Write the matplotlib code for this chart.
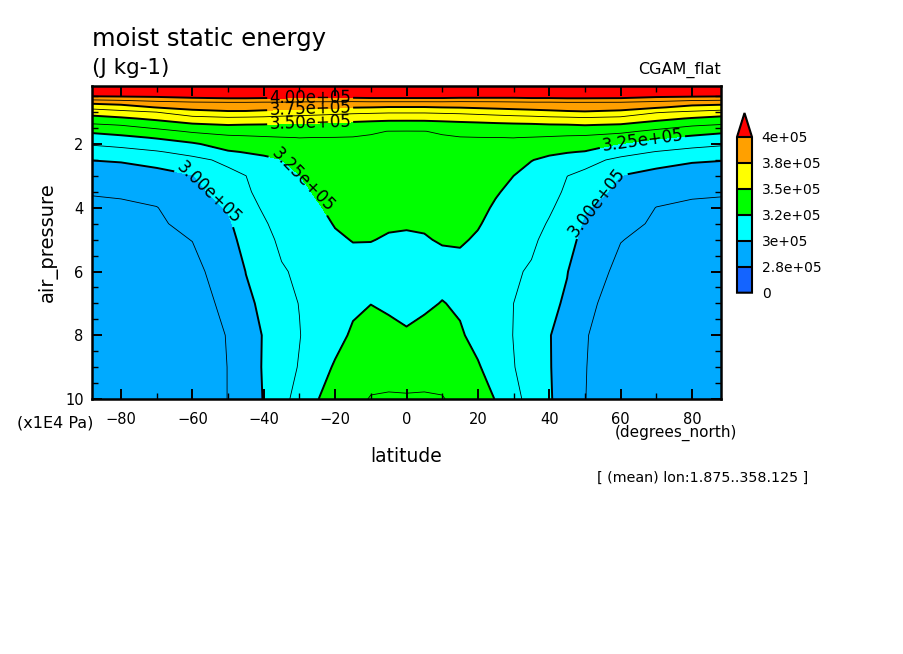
import numpy as np
import matplotlib
matplotlib.use("Agg")
import matplotlib.pyplot as plt
from matplotlib.ticker import MultipleLocator

# zonal mean moist static energy, values in 1e5 J/kg
lat = [-88.125, -80, -70, -60, -50, -45, -40, -35, -30, -25, -20, -15, -10, -5, 0,
       5, 10, 15, 20, 25, 30, 35, 40, 45, 50, 60, 70, 80, 88.125]
plev = [0.18, 0.4, 0.55, 0.7, 0.85, 1.0, 1.2, 1.4, 1.6, 1.8, 2.0, 2.25, 2.5,
        3.0, 3.5, 4.0, 4.5, 5.0, 6.0, 7.0, 8.0, 9.0, 10.0]  # x1E4 Pa
mse = [
    [4.30, 4.30, 4.30, 4.30, 4.30, 4.30, 4.30, 4.30, 4.30, 4.30, 4.30, 4.30, 4.30, 4.30, 4.30,
     4.30, 4.30, 4.30, 4.30, 4.30, 4.30, 4.30, 4.30, 4.30, 4.30, 4.30, 4.30, 4.30, 4.30],
    [4.11, 4.11, 4.11, 4.12, 4.13, 4.13, 4.13, 4.13, 4.12, 4.12, 4.12, 4.12, 4.13, 4.13, 4.13,
     4.13, 4.13, 4.12, 4.12, 4.12, 4.12, 4.13, 4.13, 4.13, 4.13, 4.12, 4.11, 4.11, 4.11],
    [3.95, 3.96, 3.975, 4.00, 4.015, 4.015, 4.008, 4.008, 4.00, 4.00, 4.00, 4.00, 4.008, 4.008, 4.008,
     4.008, 4.008, 4.00, 4.00, 4.00, 4.00, 4.008, 4.008, 4.015, 4.015, 4.01, 3.98, 3.965, 3.955],
    [3.78, 3.80, 3.84, 3.86, 3.867, 3.867, 3.862, 3.862, 3.856, 3.85, 3.848, 3.845, 3.849, 3.847, 3.847,
     3.847, 3.849, 3.845, 3.848, 3.85, 3.856, 3.862, 3.862, 3.867, 3.867, 3.865, 3.845, 3.81, 3.80],
    [3.66, 3.69, 3.755, 3.79, 3.80, 3.80, 3.797, 3.792, 3.784, 3.775, 3.766, 3.756, 3.751, 3.743, 3.743,
     3.743, 3.751, 3.756, 3.766, 3.775, 3.784, 3.792, 3.797, 3.80, 3.805, 3.80, 3.765, 3.71, 3.69],
    [3.56, 3.59, 3.625, 3.71, 3.735, 3.734, 3.721, 3.706, 3.694, 3.681, 3.667, 3.653, 3.646, 3.639, 3.639,
     3.639, 3.646, 3.653, 3.667, 3.681, 3.694, 3.706, 3.721, 3.734, 3.74, 3.72, 3.635, 3.605, 3.58],
    [3.45, 3.48, 3.525, 3.58, 3.60, 3.595, 3.59, 3.578, 3.571, 3.56, 3.549, 3.542, 3.536, 3.531, 3.531,
     3.531, 3.536, 3.542, 3.549, 3.56, 3.571, 3.578, 3.59, 3.595, 3.605, 3.59, 3.535, 3.49, 3.46],
    [3.36, 3.38, 3.43, 3.48, 3.502, 3.496, 3.493, 3.485, 3.481, 3.476, 3.47, 3.464, 3.454, 3.444, 3.442,
     3.444, 3.454, 3.464, 3.47, 3.476, 3.481, 3.485, 3.493, 3.496, 3.505, 3.49, 3.44, 3.39, 3.37],
    [3.27, 3.30, 3.34, 3.39, 3.417, 3.42, 3.426, 3.427, 3.428, 3.423, 3.416, 3.405, 3.382, 3.374, 3.373,
     3.374, 3.382, 3.405, 3.416, 3.423, 3.428, 3.427, 3.426, 3.42, 3.42, 3.40, 3.35, 3.305, 3.275],
    [3.20, 3.22, 3.26, 3.31, 3.35, 3.357, 3.364, 3.371, 3.376, 3.374, 3.373, 3.371, 3.369, 3.366, 3.366,
     3.366, 3.369, 3.371, 3.373, 3.374, 3.376, 3.371, 3.364, 3.357, 3.352, 3.32, 3.265, 3.225, 3.20],
    [3.135, 3.16, 3.19, 3.235, 3.30, 3.311, 3.318, 3.334, 3.353, 3.361, 3.364, 3.364, 3.361, 3.359, 3.358,
     3.359, 3.361, 3.364, 3.364, 3.361, 3.353, 3.334, 3.318, 3.311, 3.30, 3.245, 3.195, 3.165, 3.14],
    [3.07, 3.08, 3.115, 3.16, 3.24, 3.255, 3.261, 3.287, 3.326, 3.344, 3.353, 3.355, 3.352, 3.349, 3.348,
     3.349, 3.352, 3.355, 3.353, 3.344, 3.326, 3.287, 3.261, 3.255, 3.245, 3.165, 3.12, 3.085, 3.075],
    [3.002, 3.01, 3.04, 3.095, 3.15, 3.211, 3.237, 3.248, 3.298, 3.328, 3.343, 3.346, 3.343, 3.34, 3.339,
     3.34, 3.343, 3.346, 3.343, 3.328, 3.298, 3.252, 3.237, 3.211, 3.16, 3.10, 3.045, 3.012, 3.004],
    [2.94, 2.945, 2.96, 2.994, 3.095, 3.124, 3.204, 3.228, 3.247, 3.296, 3.321, 3.327, 3.325, 3.321, 3.319,
     3.321, 3.325, 3.327, 3.321, 3.296, 3.25, 3.228, 3.204, 3.126, 3.10, 2.998, 2.962, 2.947, 2.942],
    [2.88, 2.887, 2.91, 2.964, 3.05, 3.104, 3.171, 3.208, 3.224, 3.263, 3.30, 3.309, 3.307, 3.301, 3.30,
     3.301, 3.307, 3.309, 3.30, 3.26, 3.224, 3.208, 3.171, 3.104, 3.055, 2.968, 2.912, 2.888, 2.882],
    [2.86, 2.86, 2.872, 2.935, 3.009, 3.083, 3.138, 3.188, 3.20, 3.239, 3.278, 3.29, 3.29, 3.282, 3.28,
     3.282, 3.29, 3.292, 3.28, 3.236, 3.20, 3.188, 3.14, 3.083, 3.012, 2.938, 2.873, 2.86, 2.86],
    [2.85, 2.85, 2.86, 2.905, 2.982, 3.063, 3.112, 3.167, 3.185, 3.22, 3.256, 3.272, 3.272, 3.263, 3.261,
     3.263, 3.276, 3.278, 3.258, 3.22, 3.185, 3.167, 3.115, 3.063, 2.985, 2.908, 2.86, 2.85, 2.85],
    [2.845, 2.845, 2.85, 2.877, 2.96, 3.042, 3.09, 3.147, 3.17, 3.205, 3.235, 3.254, 3.254, 3.24, 3.234,
     3.242, 3.26, 3.262, 3.238, 3.205, 3.17, 3.147, 3.09, 3.045, 2.962, 2.878, 2.85, 2.845, 2.845],
    [2.835, 2.835, 2.84, 2.845, 2.93, 3.002, 3.05, 3.115, 3.142, 3.18, 3.20, 3.21, 3.20, 3.17, 3.16,
     3.17, 3.205, 3.215, 3.20, 3.18, 3.14, 3.112, 3.05, 3.004, 2.928, 2.85, 2.84, 2.835, 2.835],
    [2.83, 2.83, 2.835, 2.84, 2.895, 2.98, 3.02, 3.10, 3.127, 3.165, 3.19, 3.225, 3.248, 3.227, 3.21,
     3.228, 3.255, 3.232, 3.19, 3.165, 3.125, 3.10, 3.025, 2.985, 2.893, 2.842, 2.835, 2.83, 2.83],
    [2.83, 2.83, 2.835, 2.84, 2.878, 2.96, 3.005, 3.09, 3.122, 3.165, 3.205, 3.27, 3.30, 3.29, 3.265,
     3.29, 3.30, 3.265, 3.21, 3.165, 3.123, 3.09, 3.004, 2.962, 2.879, 2.84, 2.835, 2.83, 2.83],
    [2.83, 2.83, 2.835, 2.84, 2.876, 2.95, 3.008, 3.09, 3.13, 3.19, 3.265, 3.32, 3.34, 3.34, 3.33,
     3.34, 3.34, 3.315, 3.262, 3.19, 3.128, 3.09, 3.006, 2.952, 2.877, 2.84, 2.835, 2.83, 2.83],
    [2.835, 2.835, 2.835, 2.84, 2.876, 2.95, 3.004, 3.095, 3.16, 3.245, 3.31, 3.35, 3.38, 3.385, 3.385,
     3.385, 3.38, 3.35, 3.31, 3.245, 3.155, 3.09, 3.01, 2.95, 2.876, 2.84, 2.835, 2.835, 2.835],
]

fill_levels = [0.0, 2.75, 3.0, 3.25, 3.5, 3.75, 4.0]
fill_colors = ["#1464ff", "#00aaff", "#00ffff", "#00ff00", "#ffff00", "#ffa000", "#ff0000"]
thick_levels = [3.0, 3.25, 3.5, 3.75, 4.0]
thin_levels = [2.875, 3.125, 3.375, 3.625, 3.875]
cbar_labels = ["0", "2.8e+05", "3e+05", "3.2e+05", "3.5e+05", "3.8e+05", "4e+05"]
lat_ticks = [-80, -60, -40, -20, 0, 20, 40, 60, 80]
p_ticks = [2, 4, 6, 8, 10]

# where the contour labels go (lat, pressure)
label_pos = [(-27, 0.55), (-27, 0.9), (-27, 1.33), (-30, 3.2), (66, 1.85), (-56, 3.6), (54, 3.9)]

W, H = 904, 654
z = np.array(mse) * 1e5

fig = plt.figure(figsize=(W / 100, H / 100), dpi=100)
ax = fig.add_axes([92 / W, 1 - 399 / H, 629 / W, 313 / H])

cf = ax.contourf(lat, plev, z, levels=np.array(fill_levels) * 1e5,
                 colors=fill_colors, extend="max")
ax.contour(lat, plev, z, levels=np.array(thin_levels) * 1e5, colors="k", linewidths=0.6)
cs = ax.contour(lat, plev, z, levels=np.array(thick_levels) * 1e5, colors="k", linewidths=1.4)

# limits first, so the label angles are worked out on the flipped axis
ax.set_xlim(lat[0], lat[-1])
ax.set_ylim(10, 0.18)
ax.clabel(cs, fmt="%.2e", fontsize=12, inline=True, inline_spacing=2,
          manual=label_pos, colors="k")

ax.set_xticks(lat_ticks)
ax.set_yticks(p_ticks)
ax.xaxis.set_minor_locator(MultipleLocator(10))
ax.yaxis.set_minor_locator(MultipleLocator(0.5))
ax.tick_params(which="both", direction="in", top=True, right=True)
ax.tick_params(which="major", length=7, width=1.4, labelsize=10.5)
ax.tick_params(axis="x", which="major", pad=9)
ax.tick_params(axis="y", which="major", pad=6)
ax.tick_params(which="minor", length=4, width=1.0)
for s in ax.spines.values():
    s.set_linewidth(1.8)

# colorbar with the triangle on top
cax = fig.add_axes([737 / W, 1 - 292.7 / H, 15 / W, 179.7 / H])
cb = fig.colorbar(cf, cax=cax, extend="max", extendfrac=0.154, drawedges=True)
cb.set_ticks(np.array(fill_levels) * 1e5)
cb.set_ticklabels(cbar_labels)
cb.ax.tick_params(length=0, labelsize=10, pad=7)
cb.outline.set_linewidth(1.5)
cb.dividers.set_linewidth(1.5)

# texts
fig.text(92 / W, 1 - 46 / H, "moist static energy", fontsize=17.5, va="baseline")
fig.text(92 / W, 1 - 74 / H, "(J kg-1)", fontsize=15.5, va="baseline")
fig.text(721 / W, 1 - 70 / H, "CGAM_flat", fontsize=11.5, ha="right", va="center")
fig.text(48 / W, 1 - 242 / H, "air_pressure", fontsize=14, rotation=90, ha="center", va="center")
fig.text(55 / W, 1 - 423 / H, "(x1E4 Pa)", fontsize=11.5, ha="center", va="center")
fig.text(406 / W, 1 - 457 / H, "latitude", fontsize=13.5, ha="center", va="center")
fig.text(737 / W, 1 - 433 / H, "(degrees_north)", fontsize=11, ha="right", va="center")
fig.text(597 / W, 1 - 478 / H, "[ (mean) lon:1.875..358.125 ]", fontsize=10.3, ha="left", va="center")

fig.savefig("out.png", dpi=100)
